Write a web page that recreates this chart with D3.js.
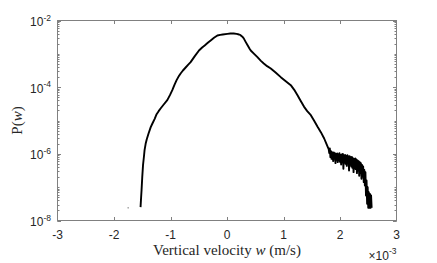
<!DOCTYPE html>
<html>
<head>
<meta charset="utf-8">
<script src="https://cdn.jsdelivr.net/npm/d3@7"></script>
<style>
  body { margin: 0; background: #fff; }
  .tick-label { font-family: "Liberation Sans", Arial, sans-serif; font-size: 12px; fill: #262626; }
  .axis-label { font-family: "Liberation Serif", "DejaVu Serif", serif; font-size: 15px; fill: #262626; }
</style>
</head>
<body>
<div id="vis-svg"></div>
<script>
// vertical velocity, in units of 1e-3 m/s
var velocity = [
  -1.530, -1.520, -1.512, -1.500, -1.486, -1.470, -1.459, -1.440, -1.420, -1.390,
  -1.350, -1.320, -1.280, -1.246, -1.210, -1.176, -1.120, -1.057, -1.010, -0.968,
  -0.930, -0.892, -0.860, -0.821, -0.780, -0.732, -0.690, -0.644, -0.570, -0.496,
  -0.440, -0.395, -0.340, -0.289, -0.230, -0.170, -0.120, -0.076, 0.007, 0.060,
  0.119, 0.170, 0.213, 0.240, 0.261, 0.285, 0.301, 0.330, 0.367, 0.400,
  0.420, 0.480, 0.539, 0.600, 0.651, 0.710, 0.775, 0.860, 0.952, 1.040,
  1.129, 1.190, 1.248, 1.300, 1.365, 1.420, 1.484, 1.540, 1.603, 1.661,
  1.720, 1.760, 1.790,
  1.80, 1.81, 1.82, 1.83, 1.84, 1.85, 1.86, 1.87, 1.88, 1.89,
  1.90, 1.91, 1.92, 1.93, 1.94, 1.95, 1.96, 1.97, 1.98, 1.99,
  2.00, 2.01, 2.02, 2.03, 2.04, 2.05, 2.06, 2.07, 2.08, 2.09,
  2.10, 2.11, 2.12, 2.13, 2.14, 2.15, 2.16, 2.17, 2.18, 2.19,
  2.20, 2.21, 2.22, 2.23, 2.24, 2.25, 2.26, 2.27, 2.28, 2.29,
  2.30, 2.31, 2.32, 2.33, 2.34, 2.35, 2.36, 2.37, 2.38, 2.39,
  2.40, 2.41, 2.42, 2.43, 2.44, 2.45, 2.46, 2.47, 2.48, 2.49,
  2.50, 2.51, 2.52, 2.53, 2.54, 2.55, 2.56
];

// log10 of the probability density P(w), one per velocity
var logDensity = [
  -7.60, -7.30, -7.08, -6.70, -6.33, -6.08, -5.89, -5.70, -5.56, -5.40,
  -5.20, -5.09, -4.95, -4.81, -4.72, -4.64, -4.52, -4.39, -4.24, -4.09,
  -3.93, -3.79, -3.69, -3.59, -3.50, -3.41, -3.33, -3.25, -3.07, -2.90,
  -2.81, -2.75, -2.67, -2.60, -2.52, -2.45, -2.43, -2.42, -2.40, -2.39,
  -2.39, -2.40, -2.42, -2.44, -2.47, -2.51, -2.55, -2.64, -2.75, -2.85,
  -2.90, -3.00, -3.10, -3.21, -3.29, -3.37, -3.44, -3.56, -3.70, -3.82,
  -3.94, -4.08, -4.24, -4.40, -4.59, -4.72, -4.84, -5.00, -5.19, -5.35,
  -5.54, -5.70, -5.82,
  -5.86, -5.98, -5.84, -6.10, -5.92, -6.15, -5.95, -6.08, -6.22, -5.96,
  -6.14, -5.98, -6.28, -6.00, -6.18, -5.99, -6.25, -6.02, -6.20, -5.98,
  -6.24, -6.03, -6.32, -6.02, -6.22, -6.00, -6.45, -6.05, -6.26, -6.03,
  -6.30, -6.06, -6.36, -6.04, -6.28, -6.08, -6.50, -6.07, -6.33, -6.10,
  -6.38, -6.09, -6.42, -6.13, -6.55, -6.15, -6.44, -6.14, -6.46, -6.17,
  -6.58, -6.20, -6.50, -6.22, -6.66, -6.25, -6.58, -6.28, -6.75, -6.33,
  -6.68, -6.38, -6.85, -6.48, -6.95, -6.55, -7.25, -6.80, -7.50, -7.00,
  -7.62, -7.15, -7.62, -7.20, -7.62, -7.25, -7.62
];

// one stray sample far out on the negative side
var strayVelocity = [-1.75];
var strayLogDensity = [-7.62];

var xTicks = [-3, -2, -1, 0, 1, 2, 3],
  yTickExponents = [-8, -6, -4, -2],
  xLabel = "Vertical velocity ",
  xLabelVar = "w",
  xLabelUnit = " (m/s)",
  xExponent = "-3";

// set the dimensions of the plot box
var width = 437, height = 263,
  box = {left: 57.5, top: 20.5, right: 396.5, bottom: 220.5},
  axisColor = "#808080";

var svg = d3.select("#vis-svg").append("svg")
  .attr("width", width)
  .attr("height", height);

var x = d3.scaleLinear().domain([-3, 3]).range([box.left, box.right]);
var y = d3.scaleLog().domain([1e-8, 1e-2]).range([box.bottom, box.top]);

// build the plotted points
var points = velocity.map(function(v, i) { return [v, Math.pow(10, logDensity[i])]; });

// clip so nothing escapes the box
svg.append("clipPath").attr("id", "clip")
  .append("rect")
  .attr("x", box.left).attr("y", box.top)
  .attr("width", box.right - box.left).attr("height", box.bottom - box.top);

// the density curve
svg.append("path")
  .datum(points)
  .attr("clip-path", "url(#clip)")
  .attr("d", d3.line().x(function(d) { return x(d[0]); }).y(function(d) { return y(d[1]); }))
  .style("fill", "none")
  .style("stroke", "#000")
  .style("stroke-width", 1.9)
  .style("stroke-linejoin", "round");

svg.selectAll(".stray")
  .data(strayVelocity)
  .enter().append("circle")
  .attr("cx", function(d) { return x(d); })
  .attr("cy", function(d, i) { return y(Math.pow(10, strayLogDensity[i])); })
  .attr("r", 0.7)
  .style("fill", "#555");

// box
svg.append("rect")
  .attr("x", box.left).attr("y", box.top)
  .attr("width", box.right - box.left).attr("height", box.bottom - box.top)
  .style("fill", "none")
  .style("stroke", axisColor)
  .style("stroke-width", 1);

// x ticks, inward on bottom and top
xTicks.forEach(function(t) {
  var px = Math.round(x(t)) + 0.5;
  if (t == -3 || t == 3) return;
  svg.append("line").attr("x1", px).attr("x2", px).attr("y1", box.bottom).attr("y2", box.bottom - 3.5)
    .style("stroke", axisColor);
  svg.append("line").attr("x1", px).attr("x2", px).attr("y1", box.top).attr("y2", box.top + 3.5)
    .style("stroke", axisColor);
});

svg.selectAll(".xlab")
  .data(xTicks)
  .enter().append("text")
  .attr("class", "tick-label")
  .attr("x", function(d) { return x(d); })
  .attr("y", 238.5)
  .style("text-anchor", "middle")
  .text(function(d) { return d < 0 ? "-" + Math.abs(d) : d; });

// y ticks: major every two decades, minor at each multiple
var minor = [];
for (var e = -8; e < -2; e++) {
  for (var m = 1; m < 10; m++) minor.push(m * Math.pow(10, e));
}
minor.forEach(function(v) {
  var py = Math.round(y(v)) + 0.5;
  svg.append("line").attr("x1", box.left).attr("x2", box.left + 2).attr("y1", py).attr("y2", py)
    .style("stroke", axisColor);
  svg.append("line").attr("x1", box.right).attr("x2", box.right - 2).attr("y1", py).attr("y2", py)
    .style("stroke", axisColor);
});
yTickExponents.forEach(function(e) {
  var py = Math.round(y(Math.pow(10, e))) + 0.5;
  svg.append("line").attr("x1", box.left).attr("x2", box.left + 3.5).attr("y1", py).attr("y2", py)
    .style("stroke", axisColor);
  svg.append("line").attr("x1", box.right).attr("x2", box.right - 3.5).attr("y1", py).attr("y2", py)
    .style("stroke", axisColor);
});

var ylab = svg.selectAll(".ylab")
  .data(yTickExponents)
  .enter().append("text")
  .attr("class", "tick-label")
  .attr("x", box.left - 6.5)
  .attr("y", function(d) { return y(Math.pow(10, d)) + 5.5; })
  .style("text-anchor", "end");
ylab.append("tspan").text("10");
ylab.append("tspan").attr("dy", -5.5).style("font-size", "8.5px").text(function(d) { return d; });

// axis labels
var xl = svg.append("text")
  .attr("class", "axis-label")
  .attr("x", (box.left + box.right) / 2)
  .attr("y", 255)
  .style("text-anchor", "middle");
xl.append("tspan").text(xLabel);
xl.append("tspan").style("font-style", "italic").text(xLabelVar);
xl.append("tspan").text(xLabelUnit);

var yl = svg.append("text")
  .attr("class", "axis-label")
  .attr("transform", "translate(21.5," + ((box.top + box.bottom) / 2) + ") rotate(-90)")
  .style("text-anchor", "middle");
yl.append("tspan").text("P(");
yl.append("tspan").style("font-style", "italic").text("w");
yl.append("tspan").text(")");

// exponent for the x axis
var xe = svg.append("text")
  .attr("class", "tick-label")
  .attr("x", box.right)
  .attr("y", 259.5)
  .style("text-anchor", "end");
xe.append("tspan").text("\u00d710");
xe.append("tspan").attr("dy", -5.5).style("font-size", "8.5px").text(xExponent);
</script>
</body>
</html>
